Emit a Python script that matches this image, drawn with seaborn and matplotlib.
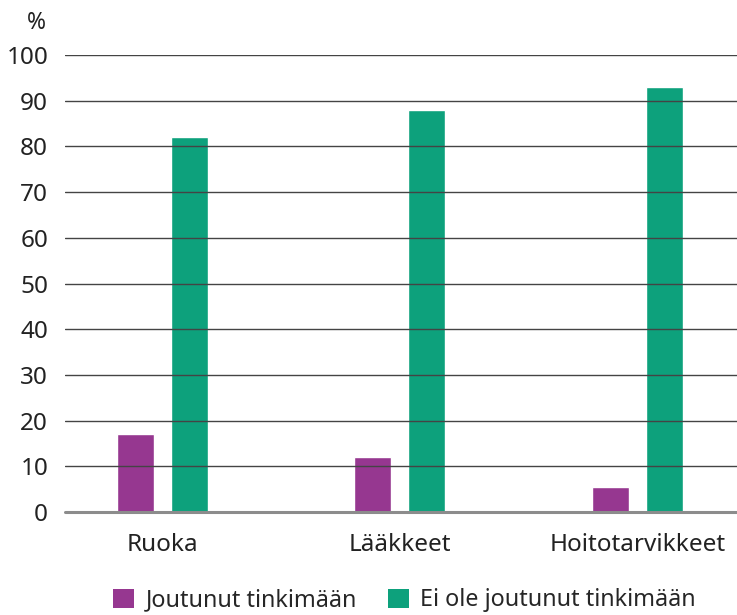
import matplotlib
matplotlib.use("Agg")
import matplotlib.pyplot as plt
import seaborn as sns
import pandas as pd
from matplotlib.patches import Patch

categories = ["Ruoka", "Lääkkeet", "Hoitotarvikkeet"]
series_names = ["Joutunut tinkimään", "Ei ole joutunut tinkimään"]
joutunut = [17, 12, 5.5]
ei_joutunut = [82, 88, 93]
yticks = [0, 10, 20, 30, 40, 50, 60, 70, 80, 90, 100]
colors = ["#963790", "#0da17c"]

df = pd.DataFrame({
    "kategoria": categories * 2,
    "ryhma": [series_names[0]] * 3 + [series_names[1]] * 3,
    "osuus": joutunut + ei_joutunut,
})

sns.set_theme(style="white")
plt.rcParams["font.family"] = ["Noto Sans", "DejaVu Sans"]

fs = 17.5
fig = plt.figure(figsize=(7.37, 6.15), dpi=100)
ax = fig.add_axes([0.088, 0.1675, 0.912, 0.743])

sns.barplot(data=df, x="kategoria", y="osuus", hue="ryhma",
            hue_order=series_names, order=categories,
            palette=colors, width=0.454, gap=0.313,
            saturation=1, legend=False, ax=ax, zorder=2)

ax.set_xlim(-0.41, 2.42)
ax.set_ylim(0, 100)
ax.set_yticks(yticks)
for v in yticks[1:]:
    ax.axhline(v, color="#444444", lw=1.0, zorder=3)
ax.axhline(0, color="#8c8c8c", lw=2.2, zorder=4, clip_on=False)

for s in ax.spines.values():
    s.set_visible(False)
ax.tick_params(axis="y", length=0, pad=12, labelsize=fs, labelcolor="#222222")
ax.tick_params(axis="x", length=0, pad=15, labelsize=fs, labelcolor="#222222")
ax.set_xlabel("")
ax.set_ylabel("")

fig.text(0.05, 0.962, "%", ha="center", va="center", fontsize=fs - 1, color="#222222")

handles = [Patch(facecolor=c, edgecolor="none") for c in colors]
fig.legend(handles, series_names, loc="center", bbox_to_anchor=(0.549, 0.024),
           ncol=2, frameon=False, fontsize=16.8, handlelength=0.9,
           handleheight=0.9, handletextpad=0.5, columnspacing=1.3)

fig.savefig("out.png", dpi=100)
